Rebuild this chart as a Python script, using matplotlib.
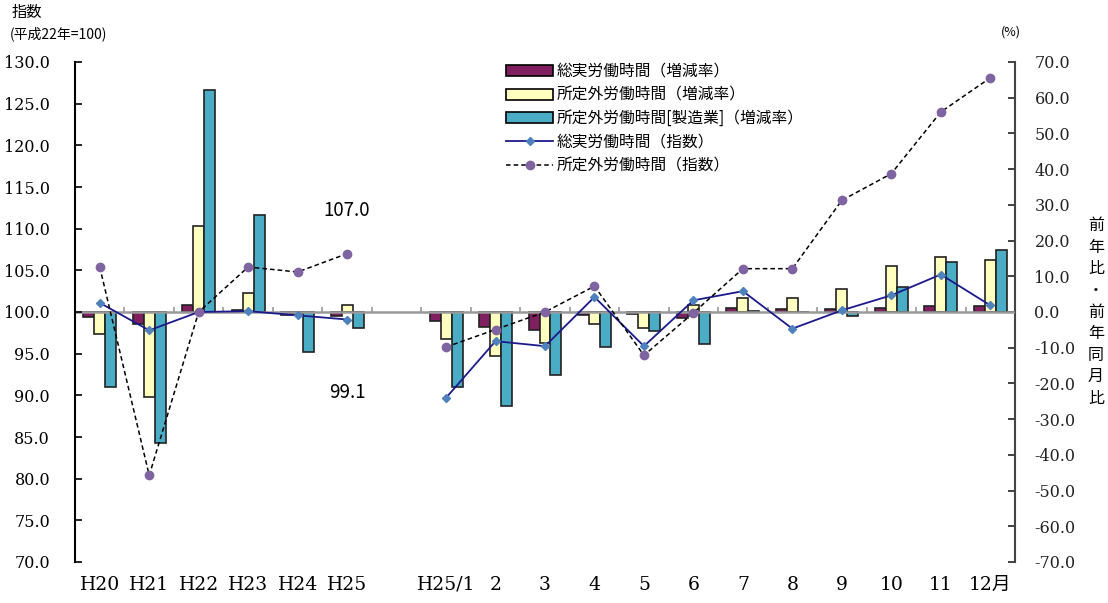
import numpy as np
import matplotlib
matplotlib.use("Agg")
import matplotlib.pyplot as plt
from matplotlib.patches import Patch
from matplotlib.lines import Line2D

# Categories (slot 6 is an empty spacer between years and months)
labels = ["H20", "H21", "H22", "H23", "H24", "H25", "",
          "H25/1", "2", "3", "4", "5", "6", "7", "8", "9", "10", "11", "12月"]

# Bars: year-on-year change (%), right axis
total_rate = [-1.3, -3.3, 2.0, 0.5, -0.8, -1.0, np.nan,
              -2.6, -4.2, -4.9, -0.8, -0.5, -1.8, 1.1, 0.8, 0.8, 1.1, 1.7, 1.7]
overtime_rate = [-6.1, -23.7, 24.1, 5.3, -0.6, 2.0, np.nan,
                 -7.5, -12.4, -8.7, -3.3, -4.5, 2.0, 4.0, 4.0, 6.5, 13.0, 15.4, 14.6]
overtime_mfg_rate = [-21.0, -36.8, 62.3, 27.3, -11.1, -4.6, np.nan,
                     -21.0, -26.2, -17.6, -9.9, -5.3, -8.9, 0.4, 0.0, -1.0, 6.9, 13.9, 17.5]

# Lines: index (H22=100), left axis
total_index = [101.1, 97.8, 100.0, 100.1, 99.6, 99.1, np.nan,
               89.7, 96.5, 95.9, 101.8, 95.9, 101.4, 102.5, 98.0, 100.2, 102.0, 104.5, 100.8]
overtime_index = [105.4, 80.4, 100.0, 105.4, 104.8, 107.0, np.nan,
                  95.8, 97.9, 100.0, 103.1, 94.8, 99.9, 105.2, 105.2, 113.4, 116.6, 124.0, 128.1]

x = np.arange(len(labels))
w = 0.222

jp = ["Noto Sans CJK JP", "DejaVu Sans"]
serif = ["DejaVu Serif", "Noto Sans CJK JP"]

c_total = "#7F1F5F"
c_over = "#FFFFC0"
c_mfg = "#4BACC6"

fig = plt.figure(figsize=(11.08, 6.03), dpi=100)
ax = fig.add_axes([75 / 1108, 41 / 603, 940 / 1108, 500 / 603])
ax2 = ax.twinx()

# bars on the right (%) axis
ax2.bar(x - w, total_rate, w, color=c_total, edgecolor="#222222", linewidth=1.2)
ax2.bar(x, overtime_rate, w, color=c_over, edgecolor="#222222", linewidth=1.2)
ax2.bar(x + w, overtime_mfg_rate, w, color=c_mfg, edgecolor="#222222", linewidth=1.2)
ax2.axhline(0, color="#999999", lw=1.8, zorder=5)
bounds = np.arange(0.5, 18, 1.0)
ax2.vlines(bounds, 0, 1.5, color="#999999", lw=1.2, zorder=5)
ax2.set_ylim(-70, 70)
ax2.set_yticks(np.arange(-70, 71, 10))
ax2.set_yticklabels(["%.1f" % v for v in np.arange(-70, 71, 10)],
                    fontsize=11.5, family=serif)
ax2.tick_params(axis="y", direction="in", length=5, width=1.2, pad=14, colors="#222222")
for s in ["top", "bottom", "left"]:
    ax2.spines[s].set_visible(False)
ax2.spines["right"].set_color("#444444")
ax2.spines["right"].set_linewidth(1.5)

# lines on the left (index) axis, drawn above the bars
ax.set_zorder(ax2.get_zorder() + 1)
ax.patch.set_visible(False)
ax.plot(x, total_index, color="#1A1A8C", lw=1.3, marker="D", markersize=4.5,
        markerfacecolor="#4F81BD", markeredgecolor="#4F81BD")
ax.plot(x, overtime_index, color="black", lw=1.1, ls=(0, (3, 2)), marker="o",
        markersize=6, markerfacecolor="#8064A2", markeredgecolor="#8064A2")
ax.set_ylim(70, 130)
ax.set_xlim(-0.5, 18.5)
ax.set_yticks(np.arange(70, 131, 5))
ax.set_yticklabels(["%.1f" % v for v in np.arange(70, 131, 5)], fontsize=11.5, family=serif)
ax.tick_params(axis="y", direction="in", length=5, width=1.2, pad=18)
ax.set_xticks(x)
ax.set_xticklabels(labels, fontsize=13.5, family=serif)
ax.tick_params(axis="x", length=0, pad=10)
for s in ["top", "bottom", "right"]:
    ax.spines[s].set_visible(False)
ax.spines["left"].set_linewidth(1.5)

ax.text(5, 107.0 + 5.2, "107.0", ha="center", va="center", fontsize=13.5, family=jp)
ax.text(5, 99.1 - 8.8, "99.1", ha="center", va="center", fontsize=13.5, family=jp)

handles = [
    Patch(facecolor=c_total, edgecolor="black", linewidth=1.2),
    Patch(facecolor=c_over, edgecolor="black", linewidth=1.2),
    Patch(facecolor=c_mfg, edgecolor="black", linewidth=1.2),
    Line2D([], [], color="#1A1A8C", lw=1.3, marker="D", markersize=4.5,
           markerfacecolor="#4F81BD", markeredgecolor="#4F81BD"),
    Line2D([], [], color="black", lw=1.1, ls=(0, (3, 2)), marker="o", markersize=6,
           markerfacecolor="#8064A2", markeredgecolor="#8064A2"),
]
names = ["総実労働時間（増減率）", "所定外労働時間（増減率）",
         "所定外労働時間[製造業]（増減率）", "総実労働時間（指数）", "所定外労働時間（指数）"]
ax.legend(handles, names, loc="upper left", bbox_to_anchor=(495 / 1108, 1 - 52 / 603),
          bbox_transform=fig.transFigure, frameon=False, prop={"family": jp, "size": 11.3},
          handlelength=3.0, handletextpad=0.25, labelspacing=0.42, borderpad=0.2)

fig.text(12 / 1108, 1 - 4 / 603, "指数", ha="left", va="top", fontsize=11, family=jp)
fig.text(10 / 1108, 1 - 26 / 603, "(平成22年=100)", ha="left", va="top", fontsize=10, family=jp)
fig.text(1011 / 1108, 1 - 32 / 603, "(%)", ha="center", va="center", fontsize=9, family=jp)
fig.text(1096 / 1108, 1 - 312 / 603, "\n".join("前年比・前年同月比"), ha="center",
         va="center", fontsize=11.5, family=jp, linespacing=1.35)

fig.savefig("out.png", dpi=100)
